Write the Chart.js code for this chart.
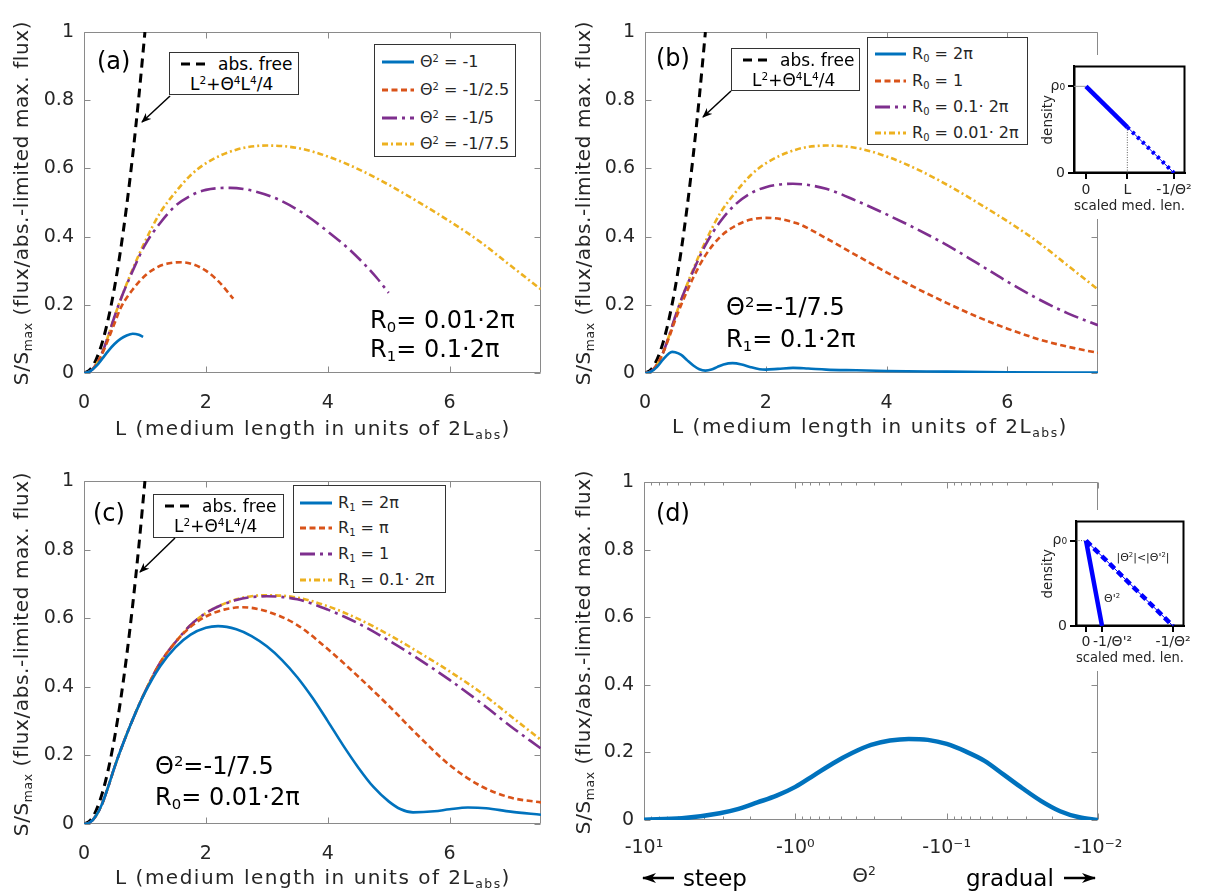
<!DOCTYPE html>
<html><head><meta charset="utf-8">
<script src="https://cdn.jsdelivr.net/npm/chart.js@4.4.1/dist/chart.umd.min.js"></script>
<style>
html,body{margin:0;padding:0;background:#fff}
#fig{position:relative;width:1206px;height:895px;overflow:hidden;font-family:"DejaVu Sans",sans-serif;color:#262626}
canvas{position:absolute}
.ab{position:absolute;white-space:nowrap;line-height:1}
.c{transform:translate(-50%,-50%)}
.ly{transform:translateY(-50%)}
.rot{transform:translate(-50%,-50%) rotate(-90deg)}
.ttl{font-size:20px;letter-spacing:1.5px}
.ytl{font-size:20px;letter-spacing:0.6px}
.sup{font-size:0.62em;position:relative;top:-0.55em}
.sub{font-size:0.62em;position:relative;top:0.3em}
.box{position:absolute;background:#fff;border:1px solid #333;box-sizing:border-box}
.row{position:absolute;left:0;right:0;height:0}
.row > svg{position:absolute;top:-6px}
.row > span{position:absolute;transform:translateY(-50%);line-height:1;white-space:nowrap}
.ann{font-size:24px;color:#000}
.pl{font-size:24px;color:#000}
#ov{position:absolute;left:0;top:0;pointer-events:none}
</style></head><body><div id="fig">
<canvas id="ca" width="600" height="445" style="left:0;top:0"></canvas>
<canvas id="cb" width="606" height="445" style="left:600px;top:0"></canvas>
<canvas id="cc" width="600" height="450" style="left:0;top:445px"></canvas>
<canvas id="cd" width="606" height="450" style="left:600px;top:445px"></canvas>
<canvas id="ib" width="170" height="164" style="left:1036px;top:55px"></canvas>
<canvas id="id" width="170" height="161" style="left:1036px;top:510px"></canvas>
<div id="html"></div>
<svg id="ov" width="1206" height="895">
<defs>
<marker id="ah" markerWidth="10" markerHeight="8" refX="9" refY="4" orient="auto" markerUnits="userSpaceOnUse"><path d="M0,0 L10,4 L0,8 L3,4 Z" fill="#000"/></marker>
<marker id="ah2" markerWidth="14" markerHeight="10" refX="13" refY="5" orient="auto" markerUnits="userSpaceOnUse"><path d="M0,0 L14,5 L0,10 L4,5 Z" fill="#000"/></marker>
</defs>
<line x1="170" y1="96" x2="142" y2="122" stroke="#000" stroke-width="1.5" marker-end="url(#ah)"/>
<line x1="731" y1="91" x2="703" y2="117" stroke="#000" stroke-width="1.5" marker-end="url(#ah)"/>
<line x1="175" y1="538" x2="140" y2="572" stroke="#000" stroke-width="1.5" marker-end="url(#ah)"/>
<line x1="674" y1="878" x2="643" y2="878" stroke="#000" stroke-width="2.5" marker-end="url(#ah2)"/>
<line x1="1064" y1="878" x2="1095" y2="878" stroke="#000" stroke-width="2.5" marker-end="url(#ah2)"/>
</svg>
</div>
<script>
// ---------------- data ----------------
const xTickVals = [0, 2, 4, 6];
const yTickVals = [0, 0.2, 0.4, 0.6, 0.8, 1];
const yTickLabels = ['0', '0.2', '0.4', '0.6', '0.8', '1'];
const dTickVals = [10, 1, 0.1, 0.01];
const dTickLabels = ['-10\u00B9', '-10\u2070', '-10\u207B\u00B9', '-10\u207B\u00B2'];

// abs. free curve (black dashed)
const absFreeL = [0, 0.1, 0.2, 0.3, 0.4, 0.5, 0.6, 0.7, 0.8, 0.9, 1.0];
const absFreeS = [0, 0.01, 0.04, 0.09, 0.16, 0.25, 0.36, 0.49, 0.64, 0.81, 1.0];

// common curve: Theta^2=-1/7.5, R0=0.01*2pi, R1=0.1*2pi
const baseL = [0, 0.1, 0.2, 0.3, 0.4, 0.5, 0.6, 0.8, 1.0, 1.25, 1.5, 1.75, 2.0, 2.5, 3.0, 3.5, 4.0, 4.5, 5.0, 5.5, 6.0, 6.5, 7.0, 7.5];
const baseS = [0, 0.005, 0.025, 0.06, 0.11, 0.165, 0.215, 0.305, 0.385, 0.47, 0.53, 0.58, 0.615, 0.655, 0.667, 0.66, 0.635, 0.598, 0.552, 0.5, 0.445, 0.385, 0.315, 0.245];

// (a) Theta^2 series
const aBlueL = [0, 0.1, 0.2, 0.3, 0.4, 0.5, 0.6, 0.7, 0.8, 0.9, 0.97];
const aBlueS = [0, 0.005, 0.02, 0.042, 0.065, 0.085, 0.1, 0.11, 0.115, 0.112, 0.106];
const aOrangeL = [0, 0.1, 0.2, 0.3, 0.4, 0.5, 0.6, 0.8, 1.0, 1.2, 1.4, 1.6, 1.8, 2.0, 2.2, 2.45];
const aOrangeS = [0, 0.005, 0.024, 0.057, 0.1, 0.145, 0.19, 0.245, 0.285, 0.31, 0.322, 0.325, 0.318, 0.3, 0.27, 0.218];
const aPurpleL = [0, 0.1, 0.2, 0.3, 0.4, 0.5, 0.6, 0.8, 1.0, 1.25, 1.5, 1.75, 2.0, 2.4, 2.8, 3.2, 3.6, 4.0, 4.4, 4.8, 5.0];
const aPurpleS = [0, 0.005, 0.025, 0.06, 0.11, 0.165, 0.215, 0.3, 0.375, 0.44, 0.49, 0.52, 0.537, 0.543, 0.533, 0.508, 0.468, 0.415, 0.355, 0.28, 0.235];
const aLabels = ['\u0398<span class="sup">2</span> = -1', '\u0398<span class="sup">2</span> = -1/2.5', '\u0398<span class="sup">2</span> = -1/5', '\u0398<span class="sup">2</span> = -1/7.5'];

// (b) R0 series
const bBlueL = [0, 0.1, 0.2, 0.3, 0.4, 0.45, 0.5, 0.6, 0.7, 0.8, 0.9, 1.0, 1.1, 1.2, 1.3, 1.45, 1.6, 1.75, 1.9, 2.0, 2.2, 2.45, 2.7, 3.0, 3.5, 4.0, 5.0, 6.0, 7.5];
const bBlueS = [0, 0.004, 0.018, 0.04, 0.058, 0.062, 0.061, 0.053, 0.037, 0.022, 0.011, 0.007, 0.01, 0.018, 0.025, 0.029, 0.025, 0.017, 0.011, 0.01, 0.012, 0.015, 0.013, 0.01, 0.008, 0.006, 0.004, 0.002, 0.001];
const bOrangeL = [0, 0.1, 0.2, 0.3, 0.4, 0.5, 0.6, 0.8, 1.0, 1.25, 1.5, 1.75, 2.0, 2.5, 3.0, 3.5, 4.0, 4.5, 5.0, 5.5, 6.0, 6.5, 7.0, 7.5];
const bOrangeS = [0, 0.005, 0.025, 0.06, 0.105, 0.155, 0.2, 0.28, 0.345, 0.4, 0.432, 0.45, 0.455, 0.44, 0.395, 0.345, 0.295, 0.248, 0.205, 0.165, 0.13, 0.1, 0.077, 0.059];
const bPurpleL = [0, 0.1, 0.2, 0.3, 0.4, 0.5, 0.6, 0.8, 1.0, 1.25, 1.5, 1.75, 2.0, 2.45, 3.0, 3.5, 4.0, 4.5, 5.0, 5.5, 6.0, 6.5, 7.0, 7.5];
const bPurpleS = [0, 0.005, 0.025, 0.06, 0.11, 0.165, 0.215, 0.3, 0.375, 0.445, 0.495, 0.527, 0.545, 0.555, 0.54, 0.505, 0.465, 0.422, 0.375, 0.322, 0.268, 0.218, 0.175, 0.14];
const bLabels = ['R<span class="sub">0</span> = 2\u03C0', 'R<span class="sub">0</span> = 1', 'R<span class="sub">0</span> = 0.1\u00B7 2\u03C0', 'R<span class="sub">0</span> = 0.01\u00B7 2\u03C0'];

// (c) R1 series
const cBlueL = [0, 0.1, 0.2, 0.3, 0.4, 0.5, 0.6, 0.8, 1.0, 1.25, 1.5, 1.75, 2.0, 2.2, 2.5, 2.75, 3.0, 3.25, 3.5, 3.75, 4.0, 4.25, 4.5, 4.75, 5.0, 5.2, 5.4, 5.75, 6.0, 6.3, 6.6, 7.0, 7.5];
const cBlueS = [0, 0.005, 0.025, 0.06, 0.11, 0.165, 0.215, 0.305, 0.383, 0.46, 0.515, 0.552, 0.572, 0.577, 0.568, 0.548, 0.518, 0.478, 0.428, 0.368, 0.3, 0.23, 0.165, 0.108, 0.066, 0.043, 0.034, 0.037, 0.043, 0.048, 0.046, 0.036, 0.027];
const cOrangeL = [0, 0.1, 0.2, 0.3, 0.4, 0.5, 0.6, 0.8, 1.0, 1.25, 1.5, 1.75, 2.0, 2.3, 2.6, 3.0, 3.5, 4.0, 4.5, 5.0, 5.5, 6.0, 6.5, 7.0, 7.5];
const cOrangeS = [0, 0.005, 0.025, 0.06, 0.11, 0.165, 0.215, 0.305, 0.385, 0.47, 0.53, 0.575, 0.605, 0.625, 0.632, 0.62, 0.58, 0.51, 0.43, 0.345, 0.255, 0.172, 0.112, 0.077, 0.063];
const cPurpleL = [0, 0.1, 0.2, 0.3, 0.4, 0.5, 0.6, 0.8, 1.0, 1.25, 1.5, 1.75, 2.0, 2.5, 3.0, 3.5, 4.0, 4.5, 5.0, 5.5, 6.0, 6.5, 7.0, 7.5];
const cPurpleS = [0, 0.005, 0.025, 0.06, 0.11, 0.165, 0.215, 0.305, 0.385, 0.47, 0.53, 0.58, 0.615, 0.653, 0.664, 0.655, 0.625, 0.585, 0.535, 0.48, 0.42, 0.355, 0.285, 0.22];
const cLabels = ['R<span class="sub">1</span> = 2\u03C0', 'R<span class="sub">1</span> = \u03C0', 'R<span class="sub">1</span> = 1', 'R<span class="sub">1</span> = 0.1\u00B7 2\u03C0'];

// (d) S vs Theta^2 (magnitude |Theta^2|; axis shows the negative values)
const dThetaMag = [10, 5.62, 3.16, 2.37, 1.78, 1.33, 1.0, 0.75, 0.562, 0.422, 0.316, 0.237, 0.178, 0.133, 0.1, 0.075, 0.0562, 0.0422, 0.0316, 0.0237, 0.0178, 0.0133, 0.01];
const dS = [0.001, 0.005, 0.02, 0.033, 0.052, 0.072, 0.098, 0.133, 0.168, 0.198, 0.222, 0.235, 0.24, 0.237, 0.225, 0.203, 0.175, 0.135, 0.094, 0.056, 0.026, 0.008, 0.0];

// insets (density profiles)
const ibX = [0, 0.47, 1];
const ibY = [1, 0.53, 0];
const ibXLabels = ['0', 'L', '-1/\u0398\u00B2'];
const idX = [0, 0.184, 1];
const idXLabels = ['0', '\u2002\u2002\u2002-1/\u0398\'\u00B2', '-1/\u0398\u00B2'];
const insetYVals = [0, 1];
const insetYLabels = ['0', '\u03C1\u2080'];

// ---------------- styles ----------------
const COL = {blue:'#0072BD', orange:'#D95319', purple:'#7E2F8E', yellow:'#EDB120', black:'#000000', ib:'#0000FF'};
const DASH = {solid:[], dashed:[6,3.5], dashdot:[15,5,3,5], dashdot2:[6,3,2,3], absfree:[9,6]};
const FONT = 'DejaVu Sans';
Chart.defaults.font.family = FONT;

function pts(X, Y){ return X.map((x,i)=>({x:x, y:Y[i]})); }
function line(X, Y, color, dash, width){
  return {data: pts(X,Y), borderColor: color, borderWidth: width, borderDash: dash,
          pointRadius: 0, fill: false, cubicInterpolationMode: 'monotone'};
}

const boxPlugin = {
  id: 'box',
  beforeDatasetsDraw(chart, args, o){
    if (!o || !o.on) return;
    const ctx = chart.ctx, a = chart.chartArea;
    const xs = chart.scales.x, ys = chart.scales.y;
    const L = Math.round(a.left)+0.5, R = Math.round(a.right)-0.5, T = Math.round(a.top)+0.5, B = Math.round(a.bottom)-0.5;
    ctx.save();
    ctx.strokeStyle = o.color; ctx.lineWidth = o.width || 1;
    ctx.beginPath();
    if (o.ticks) {
      xs.ticks.forEach(t => {
        const p = Math.round(xs.getPixelForValue(t.value))+0.5;
        const len = t.major === false ? 3 : 6;
        ctx.moveTo(p, B); ctx.lineTo(p, B-len);
        ctx.moveTo(p, T); ctx.lineTo(p, T+len);
      });
      ys.ticks.forEach(t => {
        const p = Math.round(ys.getPixelForValue(t.value))+0.5;
        ctx.moveTo(L, p); ctx.lineTo(L+6, p);
        ctx.moveTo(R, p); ctx.lineTo(R-6, p);
      });
    }
    ctx.rect(L, T, R-L, B-T);
    ctx.stroke();
    ctx.restore();
  }
};
const whiteBg = {
  id: 'whiteBg',
  beforeDraw(chart){ const c = chart.ctx; c.save(); c.fillStyle = '#fff'; c.fillRect(0,0,chart.width,chart.height); c.restore(); }
};

function panel(id, datasets, g, xopt){
  const tickFont = {family: FONT, size: 19};
  const x = Object.assign({
    type: 'linear', min: 0, max: 7.5,
    grid: {display: false, drawTicks: false}, border: {display: false},
    ticks: {font: tickFont, color: '#262626', padding: 19, maxRotation: 0, autoSkip: false},
    afterBuildTicks: s => { s.ticks = xTickVals.map(v => ({value: v})); },
    afterFit: s => { s.height = g.xh; }
  }, xopt || {});
  return new Chart(document.getElementById(id), {
    type: 'line',
    data: {datasets: datasets},
    options: {
      responsive: false, animation: false, devicePixelRatio: 1,
      layout: {padding: {left: 0, top: g.top, right: g.right, bottom: 0}},
      plugins: {legend: {display: false}, tooltip: {enabled: false}, box: {on: true, ticks: true, color: '#8a8a8a'}},
      scales: {
        x: x,
        y: {
          type: 'linear', min: 0, max: 1,
          grid: {display: false, drawTicks: false}, border: {display: false},
          ticks: {font: tickFont, color: '#262626', padding: 10, autoSkip: false,
                  callback: (v) => { const i = yTickVals.findIndex(t => Math.abs(t - v) < 1e-9); return i >= 0 ? yTickLabels[i] : ''; }},
          afterBuildTicks: s => { s.ticks = yTickVals.map(v => ({value: v})); },
          afterFit: s => { s.width = g.yw; }
        }
      }
    },
    plugins: [boxPlugin]
  });
}

// (a)
panel('ca', [
  line(aBlueL, aBlueS, COL.blue, DASH.solid, 2.6),
  line(aOrangeL, aOrangeS, COL.orange, DASH.dashed, 2.6),
  line(aPurpleL, aPurpleS, COL.purple, DASH.dashdot, 2.6),
  line(baseL, baseS, COL.yellow, DASH.dashdot2, 2.6),
  line(absFreeL, absFreeS, COL.black, DASH.absfree, 3)
], {top: 32, right: 59, yw: 84, xh: 72});

// (b)
panel('cb', [
  line(bBlueL, bBlueS, COL.blue, DASH.solid, 2.6),
  line(bOrangeL, bOrangeS, COL.orange, DASH.dashed, 2.6),
  line(bPurpleL, bPurpleS, COL.purple, DASH.dashdot, 2.6),
  line(baseL, baseS, COL.yellow, DASH.dashdot2, 2.6),
  line(absFreeL, absFreeS, COL.black, DASH.absfree, 3)
], {top: 32, right: 108, yw: 45, xh: 72});

// (c)
panel('cc', [
  line(cBlueL, cBlueS, COL.blue, DASH.solid, 2.6),
  line(cOrangeL, cOrangeS, COL.orange, DASH.dashed, 2.6),
  line(cPurpleL, cPurpleS, COL.purple, DASH.dashdot, 2.6),
  line(baseL, baseS, COL.yellow, DASH.dashdot2, 2.6),
  line(absFreeL, absFreeS, COL.black, DASH.absfree, 3)
], {top: 36, right: 59, yw: 84, xh: 71});

// (d) logarithmic |Theta^2| axis, reversed (shows -10^1 ... -10^-2)
panel('cd', [
  line(dThetaMag, dS, COL.blue, DASH.solid, 4.5)
], {top: 37, right: 108, yw: 44, xh: 75}, {
  type: 'logarithmic', min: 0.01, max: 10, reverse: true,
  afterBuildTicks: s => {
    const t = [];
    for (let e = -2; e <= 1; e++) {
      for (let k = 1; k <= 9; k++) {
        const v = k * Math.pow(10, e);
        if (v > 10.0001) break;
        t.push({value: v, major: k === 1});
      }
    }
    s.ticks = t;
  },
  ticks: {font: {family: FONT, size: 19}, color: '#262626', padding: 17, maxRotation: 0, autoSkip: false,
    callback: (v) => { const i = dTickVals.findIndex(d => Math.abs(d - v) < 1e-9 * Math.max(1, d) + 1e-12); return i >= 0 ? dTickLabels[i] : ''; }}
});

// insets
function inset(id, datasets, g, xv, xl){
  const f = {family: FONT, size: 14};
  const grid = {display: true, drawOnChartArea: false, drawTicks: true, tickLength: 6, color: '#000', lineWidth: 2};
  return new Chart(document.getElementById(id), {
    type: 'line',
    data: {datasets: datasets},
    options: {
      responsive: false, animation: false, devicePixelRatio: 1,
      layout: {padding: {left: 0, top: g.top, right: g.right, bottom: 0}},
      plugins: {legend: {display: false}, tooltip: {enabled: false}, box: {on: true, ticks: false, color: '#000', width: 2}},
      scales: {
        x: {type: 'linear', min: g.xmin, max: g.xmax, grid: grid, border: {display: true, color: '#000', width: 2},
            ticks: {font: f, color: '#262626', padding: g.xpad, maxRotation: 0, autoSkip: false, callback: (v, i) => xl[i]},
            afterBuildTicks: s => { s.ticks = xv.map(v => ({value: v})); },
            title: {display: true, text: 'scaled med. len.', font: {family: FONT, size: 13.5}, color: '#262626', padding: {top: 2, bottom: 4}},
            afterFit: s => { s.height = g.xh; }},
        y: {type: 'linear', min: 0, max: g.ymax, grid: grid, border: {display: true, color: '#000', width: 2},
            ticks: {font: f, color: '#262626', padding: 3, autoSkip: false, callback: (v, i) => insetYLabels[i]},
            afterBuildTicks: s => { s.ticks = insetYVals.map(v => ({value: v})); },
            title: {display: true, text: 'density', font: {family: FONT, size: 13.5}, color: '#262626', padding: {top: 4, bottom: 2}},
            afterFit: s => { s.width = g.yw; }}
      }
    },
    plugins: [whiteBg, boxPlugin]
  });
}
function seg(X, Y, color, width, dash){ return {data: pts(X, Y), borderColor: color, borderWidth: width, borderDash: dash || [], pointRadius: 0, tension: 0, fill: false}; }

inset('ib', [
  seg(ibX.slice(0,2), ibY.slice(0,2), COL.ib, 4.5),
  seg(ibX.slice(1), ibY.slice(1), COL.ib, 4, [3,4]),
  seg(ibX.slice(1), ibY.slice(1), COL.ib, 1),
  seg([ibX[1], ibX[1]], [ibY[1], 0], '#333', 0.8, [1,1.5]),
  seg([-0.136, 0], [1, 1], '#999', 1)
], {top: 6, right: 21, yw: 38, xh: 46, xmin: -0.136, xmax: 1.125, ymax: 1.23, xpad: 3}, ibX, ibXLabels);

inset('id', [
  seg([idX[0], idX[1]], [1, 0], COL.ib, 4.5),
  seg([idX[0], idX[2]], [1, 0], COL.ib, 4.5, [7,4]),
  seg([idX[0], idX[2]], [1, 0], COL.ib, 1),
  seg([-0.115, 0], [1, 1], '#333', 0.8, [1,1.5])
], {top: 7, right: 22, yw: 40, xh: 45, xmin: -0.115, xmax: 1.126, ymax: 1.225, xpad: 2}, idX, idXLabels);

// ---------------- HTML annotations ----------------
const H = [];
function txt(html, x, y, cls, style){ H.push('<div class="ab ' + (cls||'') + '" style="left:' + x + 'px;top:' + y + 'px;' + (style||'') + '">' + html + '</div>'); }
function legend(x, y, w, h, rowsY, lx1, lx2, tx, labels, styles, fs){
  let s = '<div class="box" style="left:' + x + 'px;top:' + y + 'px;width:' + w + 'px;height:' + h + 'px">';
  labels.forEach((lab, i) => {
    const st = styles[i];
    s += '<div class="row" style="top:' + rowsY[i] + 'px"><svg width="' + (lx2+2) + '" height="12" style="left:0"><line x1="' + lx1 + '" y1="6" x2="' + lx2 + '" y2="6" stroke="' + st[0] + '" stroke-width="3" stroke-dasharray="' + (st[1].length ? st[1].join(',') : 'none') + '"/></svg>' +
         '<span style="left:' + tx + 'px;font-size:' + fs + 'px">' + lab + '</span></div>';
  });
  H.push(s + '</div>');
}
const legStyles = [[COL.blue, DASH.solid], [COL.orange, DASH.dashed], [COL.purple, DASH.dashdot], [COL.yellow, DASH.dashdot2]];
legend(374, 44, 142, 113, [17, 45, 73, 99], 7, 39, 45, aLabels, legStyles, 16);
legend(867, 37, 161, 108, [16, 43, 69, 95], 7, 38, 44, bLabels, legStyles, 16);
legend(293, 485, 153, 108, [17, 42, 68, 94], 6, 38, 44, cLabels, legStyles, 16);

function absBox(x, y, w, h){
  H.push('<div class="box" style="left:' + x + 'px;top:' + y + 'px;width:' + w + 'px;height:' + h + 'px">' +
    '<div class="row" style="top:11px"><svg width="40" height="12" style="left:0"><line x1="11" y1="6" x2="37" y2="6" stroke="#000" stroke-width="3" stroke-dasharray="9,6"/></svg>' +
    '<span style="left:48px;font-size:17px;color:#000">abs. free</span></div>' +
    '<div class="row" style="top:31px"><span style="left:20px;font-size:17px;color:#000">L<span class="sup">2</span>+\u0398<span class="sup">4</span>L<span class="sup">4</span>/4</span></div></div>');
}
absBox(169, 52, 130, 43);
absBox(731, 48, 129, 43);
absBox(153, 494, 131, 44);

txt('(a)', 97, 61, 'ly pl');
txt('(b)', 656, 58, 'ly pl');
txt('(c)', 93, 513, 'ly pl');
txt('(d)', 656, 513, 'ly pl');

txt('R<span class="sub">0</span>= 0.01\u00B72\u03C0', 370, 320, 'ly ann');
txt('R<span class="sub">1</span>= 0.1\u00B72\u03C0', 370, 349, 'ly ann');
txt('\u0398<span class="sup">2</span>=-1/7.5', 726, 307, 'ly ann');
txt('R<span class="sub">1</span>= 0.1\u00B72\u03C0', 726, 339, 'ly ann');
txt('\u0398<span class="sup">2</span>=-1/7.5', 155, 766, 'ly ann');
txt('R<span class="sub">0</span>= 0.01\u00B72\u03C0', 155, 797, 'ly ann');

const yTitle = 'S/S<span class="sub">max</span> (flux/abs.-limited max. flux)';
txt(yTitle, 21, 203, 'rot ytl');
txt(yTitle, 583, 203, 'rot ytl');
txt(yTitle, 21, 654, 'rot ytl');
txt(yTitle, 583, 652, 'rot ytl');
const xTitle = 'L (medium length in units of 2L<span class="sub">abs</span>)';
txt(xTitle, 313, 428, 'c ttl');
txt(xTitle, 870, 426, 'c ttl');
txt(xTitle, 313, 877, 'c ttl');
txt('\u0398<span class="sup">2</span>', 864, 875, 'c', 'font-size:20px');
txt('steep', 683, 878, 'ly', 'font-size:23px;color:#000');
txt('gradual', 966, 878, 'ly', 'font-size:23px;color:#000');

txt('|\u0398<span class="sup">2</span>|&lt;|\u0398\'<span class="sup">2</span>|', 1143, 557, 'c', 'font-size:11px;color:#222');
txt('\u0398\'<span class="sup">2</span>', 1112, 598, 'c', 'font-size:11px;color:#222');

document.getElementById('html').innerHTML = H.join('');
</script>
</body></html>
